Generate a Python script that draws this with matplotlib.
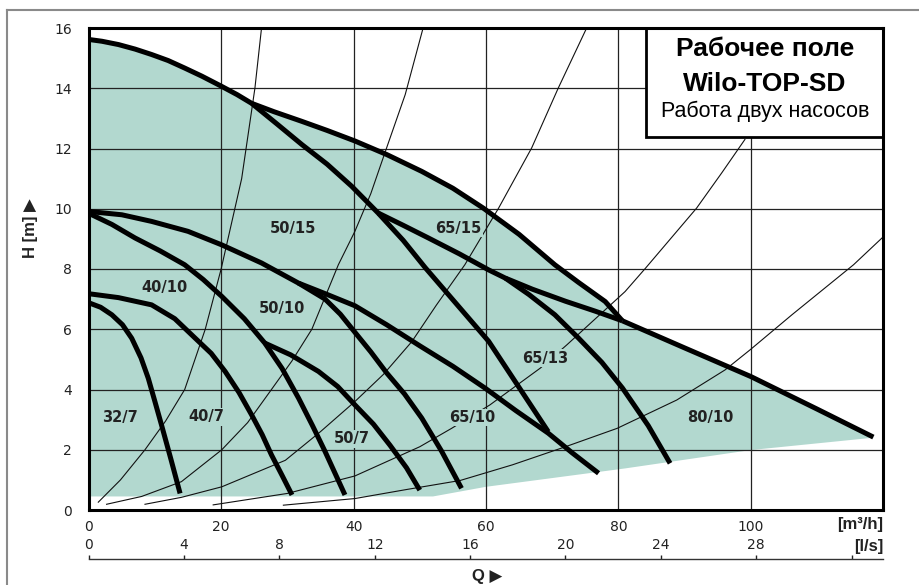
import matplotlib
matplotlib.use('Agg')
import matplotlib.pyplot as plt
from matplotlib.patches import Rectangle, Polygon
from matplotlib.lines import Line2D

# ---- data (Q in m3/h, H in m) ----
q_50_15 = [0, 2, 4.5, 7, 9.5, 12, 14.5, 17.1, 20.1, 22.4, 24.6, 28.4, 32.2, 36, 39.7, 43.7, 47.5,
           50.8, 55.5, 60.4, 64.9, 69.4]
h_50_15 = [15.62, 15.56, 15.45, 15.3, 15.12, 14.92, 14.67, 14.4, 14.06, 13.79, 13.5, 12.82, 12.13,
           11.48, 10.75, 9.86, 8.95, 8.05, 6.85, 5.6, 4.1, 2.6]

q_65_15 = [24.6, 28, 32.2, 36, 40.2, 45, 50.3, 55, 59.6, 65, 70.4, 74, 78, 80.6]
h_65_15 = [13.5, 13.22, 12.9, 12.6, 12.25, 11.8, 11.24, 10.68, 10.02, 9.15, 8.14, 7.55, 6.92, 6.28]

q_65_13 = [43.7, 47.5, 51.3, 56, 60.4, 62.9, 67, 72, 76.5, 80.6]
h_65_13 = [9.86, 9.45, 9.03, 8.5, 7.97, 7.7, 7.33, 6.93, 6.6, 6.28]

q_80_10a = [62.9, 66.5, 70.4, 74, 77.5, 80.6, 84.5, 87.8]
h_80_10a = [7.7, 7.15, 6.48, 5.7, 4.9, 4.05, 2.8, 1.55]

q_80_10 = [80.6, 90, 100, 110, 118.5]
h_80_10 = [6.28, 5.38, 4.43, 3.35, 2.42]

q_50_10 = [0, 5, 9.5, 15, 20.1, 26.1, 31.7, 35.5, 40.2, 45, 50, 55, 59.9, 64.5, 69.4, 73, 77]
h_50_10 = [9.91, 9.8, 9.58, 9.25, 8.8, 8.2, 7.53, 7.2, 6.78, 6.15, 5.45, 4.77, 4.04, 3.3, 2.55,
           1.9, 1.22]

q_50_10b = [31.7, 35.7, 38, 40.2, 42.6, 45, 47.7, 50.3, 53.3, 56.3]
h_50_10b = [7.53, 7.0, 6.5, 5.9, 5.25, 4.55, 3.85, 3.05, 1.95, 0.72]

q_40_10 = [0, 3.5, 7, 10.8, 14.5, 17.3, 20.1, 23.5, 26.6, 29.2, 31.7, 33.8, 35.7, 38.7]
h_40_10 = [9.85, 9.48, 9.03, 8.6, 8.14, 7.65, 7.09, 6.35, 5.54, 4.7, 3.71, 2.8, 1.94, 0.5]

q_50_7 = [26.6, 30.5, 34.7, 37.6, 40.2, 43, 45.5, 48, 50]
h_50_7 = [5.54, 5.15, 4.6, 4.1, 3.49, 2.85, 2.15, 1.4, 0.66]

q_40_7 = [0, 4.5, 9.5, 13, 16.1, 18.5, 20.6, 22.7, 24.6, 26.2, 27.6, 29.2, 30.7]
h_40_7 = [7.18, 7.05, 6.81, 6.35, 5.7, 5.2, 4.6, 3.9, 3.16, 2.5, 1.83, 1.15, 0.5]

q_32_7 = [0, 1.8, 3.5, 5.1, 6.5, 7.9, 9.0, 10.0, 11.0, 12.4, 13.8]
h_32_7 = [6.88, 6.73, 6.48, 6.15, 5.7, 5.05, 4.37, 3.6, 2.82, 1.7, 0.55]

# lower edge of the working field
q_floor = [118.5, 100, 81, 60, 52, 0]
h_floor = [2.4, 1.99, 1.38, 0.77, 0.45, 0.45]

# thin system curves
q_s1 = [1.45, 4.8, 8.5, 11.6, 14.5, 17.6, 20, 23.1, 25.1, 26.1]
h_s1 = [0.26, 1.0, 2.0, 2.95, 4.0, 6.0, 8.0, 11.0, 14.0, 16.0]
q_s2 = [2.7, 8, 14, 20.1, 24, 27.6, 30.7, 33.7, 37.7, 40.2, 42.6, 44.8, 47.8, 50.5]
h_s2 = [0.19, 0.45, 0.94, 2.0, 2.9, 4.0, 4.95, 6.0, 8.14, 9.25, 10.5, 11.9, 13.79, 16.0]
q_s3 = [8.5, 14, 20.1, 29.7, 35, 40.2, 44.5, 48.8, 52.5, 56.8, 61.9, 66.9, 70.9, 75.2]
h_s3 = [0.19, 0.42, 0.77, 1.65, 2.6, 3.6, 4.5, 5.59, 6.8, 8.14, 10.02, 12.02, 14.0, 16.0]
q_s4 = [18.8, 30, 40.2, 50, 54.8, 60.6, 68.2, 72.2, 81, 84.1, 91.8, 95.6, 99.1]
h_s4 = [0.17, 0.55, 1.13, 2.1, 2.71, 3.49, 4.71, 5.48, 7.25, 8.03, 10.02, 11.19, 12.3]
q_s5 = [29.4, 40.2, 48, 56.1, 64, 72, 79.8, 88.8, 96.1, 99.9, 106.2, 115.5, 120]
h_s5 = [0.16, 0.38, 0.68, 0.98, 1.5, 2.1, 2.71, 3.65, 4.65, 5.32, 6.48, 8.14, 9.07]

labels = ['50/15', '65/15', '40/10', '50/10', '32/7', '40/7', '50/7', '65/10', '65/13', '80/10']
label_q = [30.9, 55.8, 11.5, 29.2, 4.7, 17.8, 39.7, 57.9, 69.0, 93.9]
label_h = [9.36, 9.36, 7.4, 6.7, 3.07, 3.1, 2.36, 3.07, 5.04, 3.07]

x_ticks = [0, 20, 40, 60, 80, 100]
y_ticks = [0, 2, 4, 6, 8, 10, 12, 14, 16]
ls_ticks = [0, 4, 8, 12, 16, 20, 24, 28, 32]

FILL = '#b2d8cf'
INK = '#111111'

fig = plt.figure(figsize=(9.19, 5.85), dpi=100)
ax = fig.add_axes([88.7 / 919, 1 - 510 / 585, (883.3 - 88.7) / 919, (510 - 28) / 585])
ax.set_xlim(0, 120)
ax.set_ylim(0, 16)

# working field
top_q = q_50_15[:11] + q_65_15[1:] + q_80_10[1:]
top_h = h_50_15[:11] + h_65_15[1:] + h_80_10[1:]
poly = list(zip(top_q, top_h)) + list(zip(q_floor, h_floor))
ax.add_patch(Polygon(poly, closed=True, facecolor=FILL, edgecolor='none', zorder=1))

# grid
for x in x_ticks[1:]:
    ax.axvline(x, color='#222222', lw=0.9, zorder=2)
for y in y_ticks[1:-1]:
    ax.axhline(y, color='#222222', lw=0.9, zorder=2)

# system curves
for q, h in [(q_s1, h_s1), (q_s2, h_s2), (q_s3, h_s3), (q_s4, h_s4), (q_s5, h_s5)]:
    ax.plot(q, h, color=INK, lw=0.8, zorder=3)

# pump curves
curves = [(q_50_15, h_50_15), (q_65_15, h_65_15), (q_65_13, h_65_13), (q_80_10a, h_80_10a),
          (q_80_10, h_80_10), (q_50_10, h_50_10), (q_50_10b, h_50_10b), (q_40_10, h_40_10),
          (q_50_7, h_50_7), (q_40_7, h_40_7), (q_32_7, h_32_7)]
for q, h in curves:
    ax.plot(q, h, color='black', lw=3.6, solid_capstyle='butt', solid_joinstyle='round', zorder=5)

for t, x, y in zip(labels, label_q, label_h):
    ax.text(x, y, t, ha='center', va='center', fontsize=10.5, fontweight='bold', color='#222222',
            family='DejaVu Sans', zorder=4,
            bbox=dict(boxstyle='square,pad=0.1', facecolor=FILL, edgecolor='none'))

# title box
ax.add_patch(Rectangle((84.2, 12.39), 120 - 84.2, 16 - 12.39, facecolor='white', edgecolor='black',
                       lw=2, zorder=6))
ax.text(102.1, 15.06, 'Рабочее поле', ha='center', va='baseline', fontsize=19, fontweight='bold',
        family='Liberation Sans', zorder=7)
ax.text(102.1, 13.9, 'Wilo-TOP-SD', ha='center', va='baseline', fontsize=19, fontweight='bold',
        family='Liberation Sans', zorder=7)
ax.text(102.1, 13.06, 'Работа двух насосов', ha='center', va='baseline', fontsize=15.5,
        family='Liberation Sans', zorder=7)

for s in ax.spines.values():
    s.set_linewidth(2.2)
    s.set_zorder(8)
ax.set_xticks(x_ticks)
ax.set_yticks(y_ticks)
ax.tick_params(length=0, labelsize=10, colors='#222222')
ax.tick_params(axis='x', pad=7)
ax.tick_params(axis='y', pad=12)

# l/s scale
ax_ls = fig.add_axes([88.7 / 919, 1 - 559 / 585, (883.3 - 88.7) / 919, 1e-6])
ax_ls.set_xlim(0, 120 / 3.6)
ax_ls.set_yticks([])
for k in ['left', 'right', 'bottom']:
    ax_ls.spines[k].set_visible(False)
ax_ls.spines['top'].set_linewidth(1.0)
ax_ls.spines['top'].set_color('#333333')
ax_ls.xaxis.set_ticks_position('top')
ax_ls.set_xticks(ls_ticks)
ax_ls.set_xticklabels([str(v) for v in ls_ticks[:-1]] + [''])
ax_ls.tick_params(axis='x', direction='out', length=3, width=1, pad=2, labelsize=10,
                  colors='#222222')
ax_ls.patch.set_visible(False)

bold = dict(fontweight='bold', fontsize=12, color='#222222', family=['Liberation Sans', 'DejaVu Sans'])
fig.text(883 / 919, 1 - 525 / 585, '[m³/h]', ha='right', va='center', **bold)
fig.text(883 / 919, 1 - 547 / 585, '[l/s]', ha='right', va='center', **bold)
fig.text(487 / 919, 1 - 576 / 585, 'Q ▶', ha='center', va='center', **bold)
fig.text(30 / 919, 1 - 228 / 585, 'H [m] ▶', ha='center', va='center', rotation=90, **bold)

# outer frame
fig.add_artist(Line2D([7 / 919, 1], [1 - 10 / 585, 1 - 10 / 585], color='#8a8a8a', lw=1.5))
fig.add_artist(Line2D([7 / 919, 7 / 919], [0, 1 - 10 / 585], color='#8a8a8a', lw=1.5))

fig.savefig('out.png', dpi=100)
